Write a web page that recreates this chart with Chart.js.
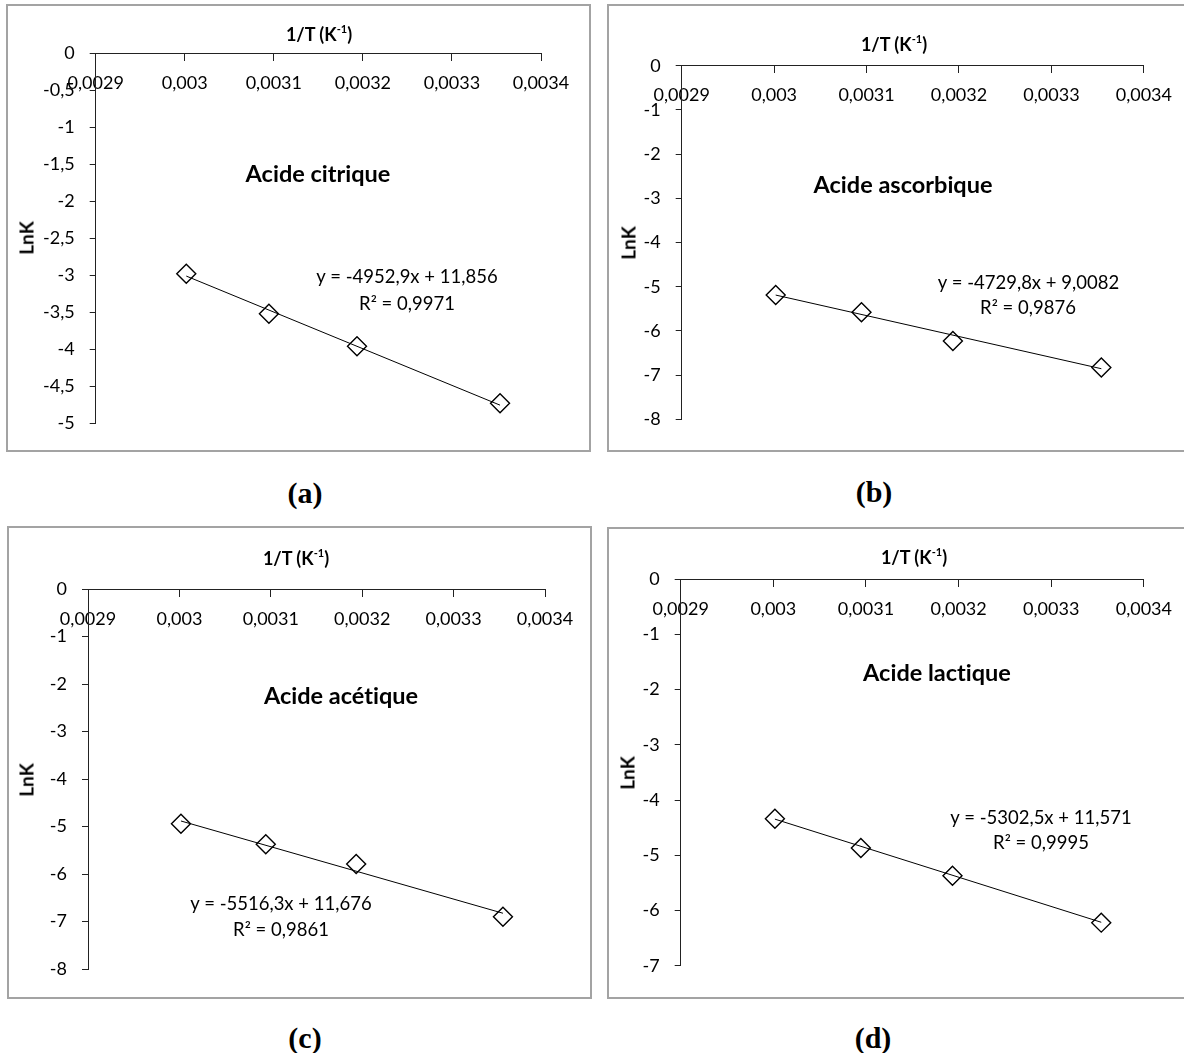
<!DOCTYPE html>
<html><head><meta charset="utf-8">
<script src="https://cdn.jsdelivr.net/npm/chart.js@4.4.1/dist/chart.umd.min.js"></script>
<style>
html,body{margin:0;padding:0;background:#fff;}
body{width:1184px;height:1053px;overflow:hidden;position:relative;font-family:Lato,"Open Sans",sans-serif;color:#000;font-variant-ligatures:none}
.box{position:absolute;box-sizing:border-box;border:2px solid #a3a3a3;background:#fff}
canvas{position:absolute}
.t{position:absolute;transform:translate(-50%,-50%);white-space:nowrap;line-height:1}
.title{font-weight:700;font-size:23.5px}
.axt{font-weight:700;font-size:18px}
.axt sup{font-size:11px;vertical-align:top;position:relative;top:-2px}
.lnk{font-weight:700;font-size:19px;transform:translate(-50%,-50%) rotate(-90deg)}
.eq{font-size:18.5px}
.lab{font-family:"Liberation Serif","Times New Roman",serif;font-weight:700;font-size:30px}
</style></head><body>
<script>
// ---- data ----
const xTicks = [0.0029, 0.0030, 0.0031, 0.0032, 0.0033, 0.0034];
const xTickLabels = ['0,0029', '0,003', '0,0031', '0,0032', '0,0033', '0,0034'];
const invT = [0.0030017, 0.0030945, 0.0031934, 0.0033540];
const lnKCitrique = [-2.98, -3.52, -3.96, -4.73];
const lnKAscorbique = [-5.19, -5.58, -6.23, -6.83];
const lnKAcetique = [-4.94, -5.37, -5.79, -6.90];
const lnKLactique = [-4.34, -4.87, -5.37, -6.22];
const acidNames = ['Acide citrique', 'Acide ascorbique', 'Acide acétique', 'Acide lactique'];
const slopes = [-4952.9, -4729.8, -5516.3, -5302.5];
const intercepts = [11.856, 9.0082, 11.676, 11.571];
const eqTexts = ['y = -4952,9x + 11,856', 'y = -4729,8x + 9,0082', 'y = -5516,3x + 11,676', 'y = -5302,5x + 11,571'];
const r2Texts = ['R² = 0,9971', 'R² = 0,9876', 'R² = 0,9861', 'R² = 0,9995'];
const panelLabels = ['(a)', '(b)', '(c)', '(d)'];
const yTicksA = [-5, -4.5, -4, -3.5, -3, -2.5, -2, -1.5, -1, -0.5, 0];
const yTickLabelsA = ['-5', '-4,5', '-4', '-3,5', '-3', '-2,5', '-2', '-1,5', '-1', '-0,5', '0'];
const yTicks8 = [-8, -7, -6, -5, -4, -3, -2, -1, 0];
const yTickLabels8 = ['-8', '-7', '-6', '-5', '-4', '-3', '-2', '-1', '0'];
const yTicks7 = [-7, -6, -5, -4, -3, -2, -1, 0];
const yTickLabels7 = ['-7', '-6', '-5', '-4', '-3', '-2', '-1', '0'];
const xAxisTitle = '1/T (K<sup>-1</sup>)';
const yAxisTitle = 'LnK';

const seriesList = [lnKCitrique, lnKAscorbique, lnKAcetique, lnKLactique];
const yTickSets = [yTicksA, yTicks8, yTicks8, yTicks7];
const yLabelSets = [yTickLabelsA, yTickLabels8, yTickLabels8, yTickLabels7];

// ---- layout (pixels) ----
const boxes = [
  {l: 7, t: 5, r: 590, b: 451},
  {l: 608, t: 5, r: 1192, b: 451},
  {l: 7.5, t: 526.7, r: 591, b: 998},
  {l: 608, t: 528.3, r: 1192, b: 998.3}
];
const plots = [
  {l: 95.7, t: 53.3, r: 541, b: 425},
  {l: 681.7, t: 65.7, r: 1145, b: 419.3},
  {l: 88, t: 589.2, r: 545, b: 969},
  {l: 680.7, t: 579.2, r: 1145, b: 965.7}
];
const titlePos = [[318, 174], [903, 185], [341, 696], [937, 673]];
const xTitlePos = [[319, 34], [894, 43.5], [296, 558], [914, 557]];
const yTitlePos = [[26.4, 238], [628, 242.5], [26.4, 779.5], [627, 773]];
const eqPos = [[407, 276], [1028.5, 281.5], [281, 903], [1041, 817]];
const r2Pos = [[407, 303], [1028, 306.5], [281, 928.5], [1041, 842]];
const labPos = [[305, 493], [874, 492], [305, 1038], [873, 1038]];

function addText(cls, html, pos) {
  const d = document.createElement('div');
  d.className = 't ' + cls;
  d.innerHTML = html;
  d.style.left = pos[0] + 'px';
  d.style.top = pos[1] + 'px';
  document.body.appendChild(d);
}

const tickFont = {family: 'Lato', size: 18};
for (let i = 0; i < 4; i++) {
  const bx = boxes[i], pl = plots[i];
  const div = document.createElement('div');
  div.className = 'box';
  div.style.left = (bx.l - 1) + 'px';
  div.style.top = (bx.t - 1) + 'px';
  div.style.width = (bx.r - bx.l + 2) + 'px';
  div.style.height = (bx.b - bx.t + 2) + 'px';
  document.body.appendChild(div);

  const cl = Math.round(bx.l + 2), ct = Math.round(bx.t + 2);
  const cr = Math.min(Math.round(bx.r - 2), 1184), cb = Math.round(bx.b - 2);
  const cv = document.createElement('canvas');
  cv.width = cr - cl; cv.height = cb - ct;
  cv.style.left = cl + 'px'; cv.style.top = ct + 'px';
  cv.style.width = (cr - cl) + 'px'; cv.style.height = (cb - ct) + 'px';
  document.body.appendChild(cv);

  const series = seriesList[i];
  const pts = invT.map((x, k) => ({x: x, y: series[k]}));
  const x0 = invT[0], x1 = invT[invT.length - 1];
  const trend = [{x: x0, y: slopes[i] * x0 + intercepts[i]}, {x: x1, y: slopes[i] * x1 + intercepts[i]}];
  const yW = pl.l - cl;

  new Chart(cv.getContext('2d'), {
    type: 'scatter',
    data: {datasets: [
      {data: pts, pointStyle: 'rectRot', pointRadius: 9.5, pointHoverRadius: 9.5,
       borderColor: '#000', borderWidth: 1.4, backgroundColor: 'rgba(0,0,0,0)', showLine: false},
      {data: trend, showLine: true, borderColor: '#000', borderWidth: 1, pointRadius: 0, pointHoverRadius: 0, fill: false}
    ]},
    options: {
      responsive: false, animation: false, devicePixelRatio: 1,
      events: [],
      layout: {padding: {left: 0, top: pl.t - ct, right: cr - pl.r, bottom: cb - pl.b}},
      plugins: {legend: {display: false}, tooltip: {enabled: false}},
      scales: {
        x: {
          type: 'linear', position: {y: 0}, min: xTicks[0], max: xTicks[xTicks.length - 1],
          afterBuildTicks: s => { s.ticks = xTicks.map(v => ({value: v})); },
          ticks: {callback: (v, idx) => xTickLabels[idx], autoSkip: false, maxRotation: 0, minRotation: 0,
                  padding: 12, font: tickFont, color: '#000'},
          grid: {display: true, drawOnChartArea: false, drawTicks: true, tickLength: 7, color: '#222', lineWidth: 1},
          border: {display: true, color: '#222', width: 1}
        },
        y: {
          type: 'linear', position: 'left', min: yTickSets[i][0], max: 0,
          afterBuildTicks: s => { s.ticks = yTickSets[i].map(v => ({value: v})); },
          afterFit: s => { s.width = yW; },
          ticks: {callback: (v, idx) => yLabelSets[i][idx], autoSkip: false, padding: 15, font: tickFont, color: '#000'},
          grid: {display: true, drawOnChartArea: false, drawTicks: true, tickLength: 6, color: '#222', lineWidth: 1},
          border: {display: true, color: '#222', width: 1}
        }
      }
    }
  });

  addText('title', acidNames[i], titlePos[i]);
  addText('axt', xAxisTitle, xTitlePos[i]);
  addText('lnk', yAxisTitle, yTitlePos[i]);
  addText('eq', eqTexts[i], eqPos[i]);
  addText('eq', r2Texts[i], r2Pos[i]);
  addText('lab', panelLabels[i], labPos[i]);
}
</script>
</body></html>
